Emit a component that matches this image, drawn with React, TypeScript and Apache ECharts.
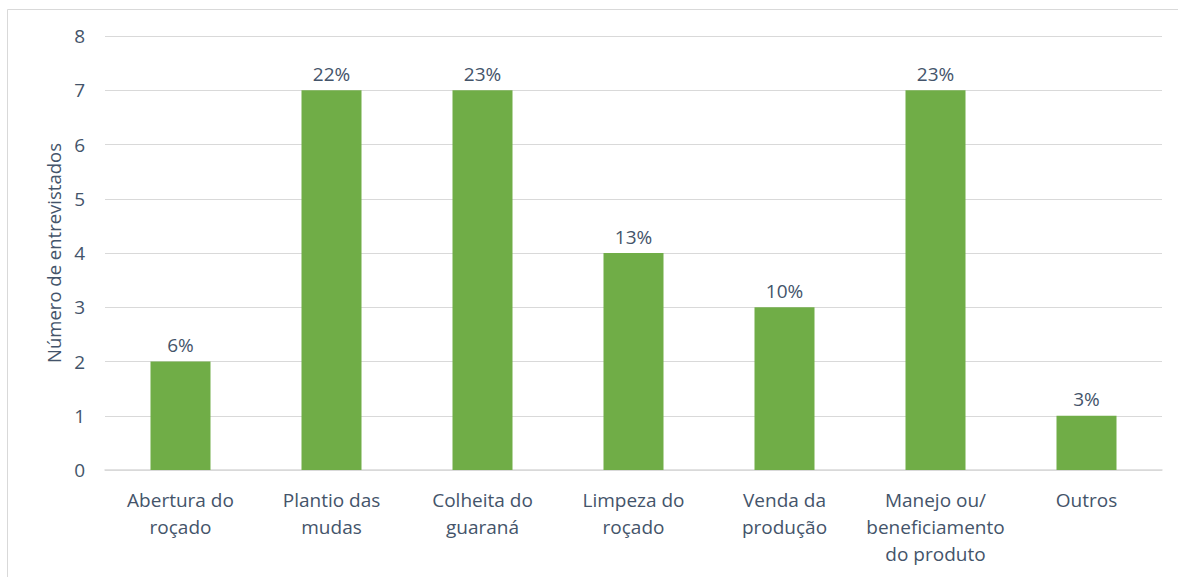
import React, { useEffect, useRef } from "react";
import * as echarts from "echarts";

const categories = [
  "Abertura do\nroçado",
  "Plantio das\nmudas",
  "Colheita do\nguaraná",
  "Limpeza do\nroçado",
  "Venda da\nprodução",
  "Manejo ou/\nbeneficiamento\ndo produto",
  "Outros",
];
const values = [2, 7, 7, 4, 3, 7, 1];
const percentLabels = ["6%", "22%", "23%", "13%", "10%", "23%", "3%"];
const yTicks = [0, 1, 2, 3, 4, 5, 6, 7, 8];
const yAxisTitle = "Número de entrevistados";

const textColor = "#44546A";
const font = "'Open Sans', 'Liberation Sans', sans-serif";

export default function App() {
  const ref = useRef<HTMLDivElement>(null);
  useEffect(() => {
    if (!ref.current) return;
    const chart = echarts.init(ref.current, undefined, { renderer: "svg" });
    chart.setOption({
      animation: false,
      backgroundColor: "#ffffff",
      textStyle: { fontFamily: font },
      graphic: [
        {
          type: "rect",
          shape: { x: 7.5, y: 9.5, width: 1200, height: 600 },
          style: { fill: "none", stroke: "#D9D9D9", lineWidth: 1 },
          silent: true,
        },
      ],
      grid: { left: 105, right: 16, top: 36, bottom: 107, containLabel: false },
      xAxis: {
        type: "category",
        data: categories,
        axisLine: { show: true, lineStyle: { color: "#D9D9D9", width: 1.5 } },
        axisTick: { show: false },
        axisLabel: {
          color: textColor,
          fontSize: 19,
          lineHeight: 27,
          margin: 16,
          interval: 0,
          fontFamily: font,
        },
      },
      yAxis: {
        type: "value",
        min: yTicks[0],
        max: yTicks[yTicks.length - 1],
        interval: 1,
        name: yAxisTitle,
        nameLocation: "middle",
        nameGap: 42,
        nameTextStyle: { color: textColor, fontSize: 18.5, fontFamily: font },
        axisLine: { show: false },
        axisTick: { show: false },
        axisLabel: { color: textColor, fontSize: 19, margin: 20, fontFamily: font },
        splitLine: { lineStyle: { color: "#D9D9D9", width: 1 } },
      },
      series: [
        {
          type: "bar",
          data: values,
          barWidth: 60,
          itemStyle: { color: "#70AD47" },
          label: {
            show: true,
            position: "top",
            distance: 7,
            color: textColor,
            fontSize: 19,
            fontFamily: font,
            formatter: (p: any) => percentLabels[p.dataIndex],
          },
        },
      ],
    });
    return () => chart.dispose();
  }, []);
  return (
    <div
      ref={ref}
      style={{ position: "fixed", left: 0, top: 0, width: 1178, height: 577 }}
    />
  );
}
